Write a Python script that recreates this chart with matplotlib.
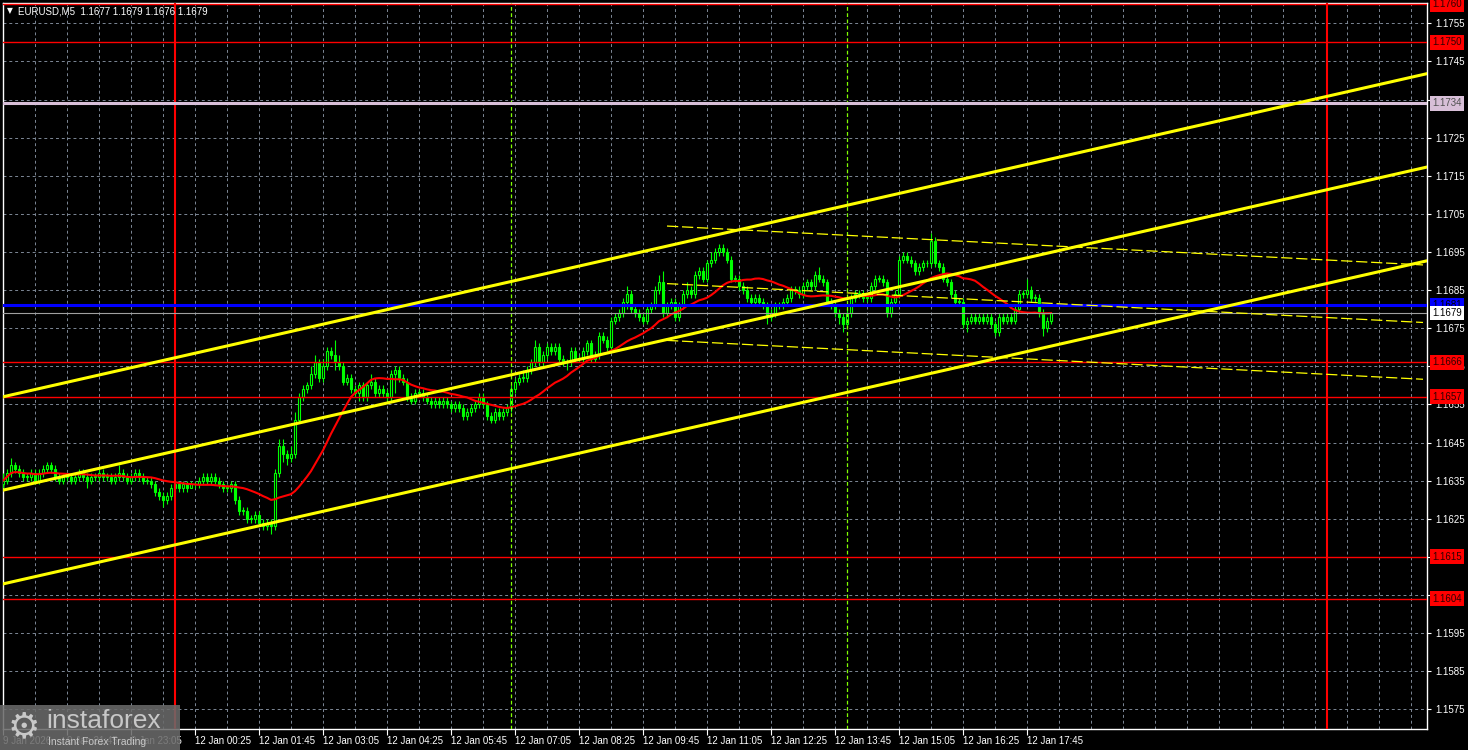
"""
EURUSD M5 chart, MT4 style (black background, green candles)
"""
import numpy as np
import pandas as pd
import matplotlib
matplotlib.use('Agg')
import matplotlib.pyplot as plt
import matplotlib.transforms as mtransforms
from matplotlib.patches import Rectangle

plt.rcParams['font.family'] = ['Liberation Sans', 'DejaVu Sans']

# ---- data: prices in pips above 1.1600 ----
first_open = 34
close_pips = [
    35, 37, 39, 38, 37, 36, 36, 37, 35, 37,
    38, 39, 38, 36, 35, 36, 36, 35, 36, 37,
    36, 35, 36, 36, 37, 36, 36, 35, 36, 37,
    36, 35, 36, 37, 36, 35, 35, 34, 32, 31,
    30, 31, 33, 34, 33, 34, 33, 34, 34, 35,
    36, 35, 36, 35, 34, 33, 33, 34, 30, 27,
    27, 25, 25, 26, 24, 23, 24, 23, 37, 44,
    42, 41, 42, 51, 57, 59, 60, 63, 66, 62,
    65, 69, 68, 66, 65, 61, 62, 59, 58, 60,
    57, 60, 61, 58, 59, 58, 57, 63, 64, 62,
    61, 57, 56, 58, 58, 57, 56, 55, 56, 55,
    56, 55, 54, 55, 54, 52, 53, 54, 55, 57,
    55, 52, 51, 53, 52, 53, 54, 59, 61, 62,
    62, 64, 66, 70, 66, 68, 70, 69, 70, 67,
    66, 66, 69, 67, 67, 69, 71, 67, 68, 73,
    72, 70, 77, 78, 79, 82, 84, 80, 79, 78,
    77, 80, 81, 85, 87, 79, 81, 82, 78, 81,
    84, 85, 84, 89, 90, 88, 92, 93, 95, 96,
    95, 93, 88, 88, 86, 85, 83, 82, 83, 82,
    81, 78, 79, 81, 81, 82, 83, 85, 85, 84,
    86, 87, 86, 89, 88, 87, 82, 81, 79, 78,
    76, 79, 83, 84, 84, 83, 83, 86, 88, 88,
    87, 79, 82, 84, 93, 94, 93, 92, 90, 91,
    92, 92, 98, 92, 91, 88, 87, 84, 82, 82,
    76, 77, 78, 77, 78, 77, 78, 76, 74, 78,
    77, 78, 77, 80, 84, 84, 85, 83, 83, 79,
    75, 77, 79,
]
high_pips = [
    37, 38, 41, 40, 39, 38, 37, 38, 38, 38,
    39, 40, 40, 39, 37, 37, 37, 37, 37, 38,
    38, 37, 37, 37, 38, 38, 37, 37, 37, 39,
    38, 37, 37, 38, 38, 37, 36, 36, 35, 33,
    32, 32, 34, 35, 35, 35, 35, 35, 35, 36,
    37, 37, 37, 37, 36, 35, 34, 35, 35, 31,
    28, 28, 26, 27, 27, 25, 25, 25, 38, 46,
    46, 43, 44, 53, 58, 60, 61, 65, 68, 67,
    67, 70, 70, 72, 68, 66, 63, 63, 60, 61,
    61, 61, 63, 62, 60, 60, 59, 64, 65, 65,
    63, 62, 58, 59, 59, 59, 58, 57, 57, 57,
    57, 57, 56, 56, 56, 55, 54, 55, 56, 58,
    58, 56, 53, 54, 54, 54, 55, 60, 62, 63,
    64, 65, 67, 72, 71, 69, 71, 71, 71, 71,
    68, 67, 70, 70, 68, 70, 72, 72, 69, 74,
    74, 73, 78, 79, 80, 83, 86, 85, 81, 80,
    79, 81, 82, 86, 89, 90, 82, 83, 83, 82,
    85, 87, 86, 90, 91, 91, 93, 95, 96, 97,
    97, 96, 94, 89, 89, 87, 86, 84, 84, 84,
    83, 82, 80, 82, 82, 83, 84, 86, 86, 86,
    87, 88, 88, 90, 91, 89, 88, 83, 82, 80,
    79, 80, 84, 85, 85, 85, 84, 87, 89, 89,
    89, 88, 83, 85, 94, 95, 95, 94, 93, 92,
    93, 93, 100, 99, 93, 92, 89, 88, 85, 83,
    83, 78, 79, 79, 79, 79, 79, 79, 77, 79,
    79, 79, 79, 81, 85, 85, 88, 86, 84, 84,
    80, 78, 79,
]
low_pips = [
    33, 34, 36, 37, 36, 35, 35, 35, 34, 34,
    36, 37, 37, 35, 34, 34, 35, 34, 34, 35,
    35, 33, 34, 35, 35, 35, 35, 34, 34, 35,
    35, 34, 34, 35, 35, 34, 34, 33, 31, 30,
    28, 29, 30, 32, 32, 32, 32, 33, 33, 33,
    34, 34, 34, 34, 33, 32, 32, 32, 29, 26,
    26, 24, 24, 24, 23, 22, 22, 21, 22, 36,
    40, 39, 40, 41, 50, 56, 58, 59, 62, 61,
    61, 64, 67, 64, 64, 60, 60, 58, 57, 56,
    56, 56, 59, 57, 57, 57, 56, 56, 58, 61,
    60, 56, 55, 55, 57, 56, 55, 54, 54, 54,
    54, 54, 53, 53, 53, 51, 51, 52, 53, 54,
    54, 51, 50, 50, 51, 51, 52, 53, 58, 60,
    61, 61, 63, 65, 65, 65, 67, 68, 68, 66,
    65, 64, 65, 66, 66, 66, 68, 66, 66, 67,
    71, 69, 69, 76, 77, 78, 80, 79, 78, 77,
    76, 76, 79, 80, 84, 78, 78, 80, 77, 77,
    80, 83, 83, 83, 88, 87, 87, 91, 92, 94,
    94, 92, 87, 87, 85, 84, 82, 81, 81, 81,
    80, 76, 77, 78, 80, 80, 81, 82, 84, 83,
    83, 85, 85, 85, 87, 86, 81, 80, 78, 76,
    74, 75, 78, 82, 83, 82, 82, 82, 85, 87,
    86, 78, 78, 81, 83, 92, 92, 91, 89, 89,
    90, 91, 91, 91, 90, 87, 86, 83, 81, 81,
    75, 74, 76, 76, 76, 76, 76, 75, 73, 73,
    76, 76, 76, 76, 79, 83, 83, 82, 82, 78,
    73, 74, 76,
]

# horizontal levels
red_levels = [1.1760, 1.1750, 1.1666, 1.1657, 1.1615, 1.1604]
pink_level = 1.1734
blue_level = 1.1681
bid_level = 1.1679

# trend channel (bar index, prices of the three lines)
channel_bars = (0, 262)
channel_start = [1.16570, 1.16325, 1.16079]
channel_end = [1.17194, 1.16949, 1.16703]
# regression (dashed) channel
reg_bars = (166, 355)
reg_start = [1.17018, 1.16867, 1.16718]
reg_end = [1.16916, 1.16765, 1.16616]

day_separators = ['2026-01-12 00:00', '2026-01-13 00:00']
session_lines = ['2026-01-12 07:00', '2026-01-12 14:00']

x_tick_times = ['2026-01-09 20:25', '2026-01-09 21:45', '2026-01-09 23:05',
                '2026-01-12 00:25', '2026-01-12 01:45', '2026-01-12 03:05',
                '2026-01-12 04:25', '2026-01-12 05:45', '2026-01-12 07:05',
                '2026-01-12 08:25', '2026-01-12 09:45', '2026-01-12 11:05',
                '2026-01-12 12:25', '2026-01-12 13:45', '2026-01-12 15:05',
                '2026-01-12 16:25', '2026-01-12 17:45']
x_tick_labels = ['9 Jan 2026', '9 Jan 21:45', '9 Jan 23:05',
                 '12 Jan 00:25', '12 Jan 01:45', '12 Jan 03:05',
                 '12 Jan 04:25', '12 Jan 05:45', '12 Jan 07:05',
                 '12 Jan 08:25', '12 Jan 09:45', '12 Jan 11:05',
                 '12 Jan 12:25', '12 Jan 13:45', '12 Jan 15:05',
                 '12 Jan 16:25', '12 Jan 17:45']
y_grid = [1.1755, 1.1745, 1.1735, 1.1725, 1.1715, 1.1705, 1.1695, 1.1685,
          1.1675, 1.1665, 1.1655, 1.1645, 1.1635, 1.1625, 1.1615, 1.1605,
          1.1595, 1.1585, 1.1575]
# scale labels fully hidden behind a level tag
y_hidden = [1.1735, 1.1615, 1.1605]
title = 'EURUSD,M5  1.1677 1.1679 1.1676 1.1679'

# ---- prepare ----
base = 1.16
c = base + np.array(close_pips) / 10000
h = base + np.array(high_pips) / 10000
l = base + np.array(low_pips) / 10000
o = np.concatenate([[base + first_open / 10000], c[:-1]])
idx = np.arange(len(c))

friday = pd.date_range('2026-01-09 20:25', '2026-01-09 23:55', freq='5min')
monday = pd.date_range('2026-01-12 00:00', periods=len(c) - len(friday), freq='5min')
times = friday.append(monday)


def bar_of(t):
    t = pd.Timestamp(t)
    if t <= times[-1]:
        return times.get_loc(t)
    # future bars, keep counting from the last one
    return len(times) - 1 + int((t - times[-1]) / pd.Timedelta('5min'))


ma = pd.Series(c).rolling(20, min_periods=1).mean()

# ---- figure ----
W, H = 1468, 750
fig = plt.figure(figsize=(W / 100, H / 100), dpi=100, facecolor='black')
ax = fig.add_axes([3 / W, 21 / H, 1424 / W, 726 / H], facecolor='black')
ax.set_xlim(0, 356)
ax.set_ylim(1.156983, 1.176033)

# grid
grid_color = '#7d8896'
for p in y_grid:
    ax.axhline(p, color=grid_color, lw=0.7, ls=(0, (3, 3)), zorder=1)
for k in range(1, 45):
    ax.axvline(8 * k, color=grid_color, lw=0.7, ls=(0, (3, 3)), zorder=1)

# candles
green = '#00ff00'
up = c >= o
ax.vlines(idx, l, h, color=green, lw=0.8, zorder=3)
ax.bar(idx[up], np.maximum((c - o)[up], 0.00002), bottom=o[up], width=0.6,
       color='black', edgecolor=green, linewidth=0.8, zorder=4)
ax.bar(idx[~up], (o - c)[~up], bottom=c[~up], width=0.6,
       color=green, edgecolor=green, linewidth=0.8, zorder=4)

# moving average
ax.plot(idx, ma, color='#ff0000', lw=1.5, zorder=5)

# vertical lines
for t in day_separators:
    ax.axvline(bar_of(t), color='#ff0000', lw=1.5, zorder=6)
for t in session_lines:
    ax.axvline(bar_of(t), color='#80ff00', lw=0.9, ls=(0, (3, 2)), zorder=6)

# horizontal levels
for p in red_levels:
    ax.axhline(p, color='#ff0000', lw=1.0, zorder=6)
ax.axhline(pink_level, color='#d8bfd8', lw=2.2, zorder=6)
ax.axhline(blue_level, color='#0000ff', lw=2.2, zorder=6)
ax.axhline(bid_level, color='#a0a0a0', lw=0.8, zorder=6)

# trend channel
for p0, p1 in zip(channel_start, channel_end):
    ax.axline((channel_bars[0], p0), (channel_bars[1], p1), color='#ffff00', lw=2.2, zorder=7)
for p0, p1 in zip(reg_start, reg_end):
    ax.plot(reg_bars, (p0, p1), color='#ffff00', lw=0.9, ls=(0, (9, 3)), zorder=7)

# axes style
for s in ax.spines.values():
    s.set_color('white')
    s.set_linewidth(1.0)
ax.yaxis.tick_right()
ax.set_yticks(y_grid)
ax.set_yticklabels(['' if p in y_hidden else f'{p:.4f}' for p in y_grid])
ax.tick_params(axis='y', colors='white', labelsize=7, length=3, pad=3)
xt = [bar_of(t) for t in x_tick_times]
ax.set_xticks(xt)
ax.set_xticklabels(x_tick_labels)
ax.tick_params(axis='x', colors='white', labelsize=7, length=4, pad=1)
for lbl in ax.get_xticklabels():
    lbl.set_ha('left')

# price labels on the right scale
tr = mtransforms.blended_transform_factory(ax.transAxes, ax.transData)


def price_tag(p, fc, tc):
    ax.text(1.0035, p, f'{p:.4f}', transform=tr, ha='left', va='center',
            fontsize=7, color=tc, zorder=10, clip_on=False,
            bbox=dict(boxstyle='square,pad=0.25', fc=fc, ec='none'))


for p in red_levels:
    price_tag(p, '#ff0000', '#300000')
price_tag(pink_level, '#d8bfd8', '#505050')
price_tag(blue_level, '#0000ff', 'black')
price_tag(bid_level, 'white', 'black')

# header
fig.text(7 / W, 1 - 11 / H, '\u25bc', color='white', fontsize=5.5, va='center',
         family=['DejaVu Sans'])
fig.text(18 / W, 1 - 11 / H, title, color='white', fontsize=7, va='center')

# watermark
fig.patches.append(Rectangle((0, 0), 180 / W, 45 / H, transform=fig.transFigure,
                             facecolor='#6a6a6a', alpha=0.88, zorder=20))
fig.text(8 / W, 1 - 727 / H, '\u2699', color='#c8c8c8', fontsize=26, va='center',
         family=['DejaVu Sans'], zorder=21)
fig.text(46 / W, 1 - 721 / H, 'instaforex', color='#c8c8c8', fontsize=19,
         va='center', zorder=21)
fig.text(48 / W, 1 - 742 / H, 'Instant Forex Trading', color='#c8c8c8',
         fontsize=7.5, va='center', zorder=21)

fig.savefig('out.png', dpi=100, facecolor='black')
